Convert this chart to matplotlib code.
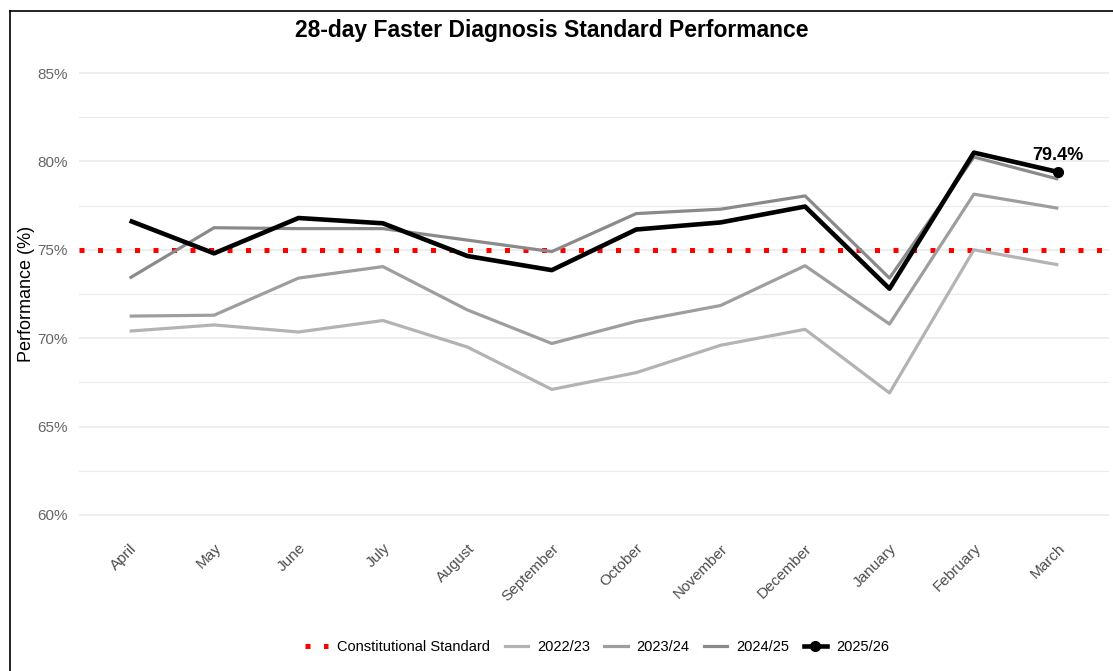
import matplotlib as mpl
mpl.use('Agg')
import matplotlib.pyplot as plt
from matplotlib.lines import Line2D
from matplotlib.ticker import FuncFormatter, MultipleLocator

plt.rcParams['font.family'] = ['Liberation Sans', 'DejaVu Sans']

months = ['April', 'May', 'June', 'July', 'August', 'September', 'October',
          'November', 'December', 'January', 'February', 'March']

fy_2022 = [70.4, 70.75, 70.35, 71.0, 69.5, 67.1, 68.05, 69.6, 70.5, 66.9, 75.0, 74.15]
fy_2023 = [71.25, 71.3, 73.4, 74.05, 71.6, 69.7, 70.95, 71.85, 74.1, 70.8, 78.15, 77.35]
fy_2024 = [73.4, 76.25, 76.2, 76.2, 75.55, 74.9, 77.05, 77.3, 78.05, 73.4, 80.25, 79.0]
fy_2025 = [76.65, 74.8, 76.8, 76.5, 74.65, 73.85, 76.15, 76.55, 77.45, 72.8, 80.5, 79.4]

standard = 75

x = list(range(len(months)))

fig = plt.figure(figsize=(11.13, 6.71), dpi=100)
ax = fig.add_axes([79 / 1113, 1 - 537 / 671, (1109 - 79) / 1113, (537 - 51) / 671])

ax.axhline(standard, color='#ff0000', linewidth=3.6, linestyle=(0, (1, 2.7)),
           dash_capstyle='butt', zorder=2)
ax.plot(x, fy_2022, color='#b3b3b3', linewidth=2.3, zorder=3, solid_capstyle='butt')
ax.plot(x, fy_2023, color='#9e9e9e', linewidth=2.3, zorder=3, solid_capstyle='butt')
ax.plot(x, fy_2024, color='#8a8a8a', linewidth=2.3, zorder=3, solid_capstyle='butt')
ax.plot(x, fy_2025, color='black', linewidth=3.3, zorder=4, solid_capstyle='butt')
ax.plot(x[-1], fy_2025[-1], 'o', color='black', markersize=7, zorder=5)
ax.annotate(f'{fy_2025[-1]:.1f}%', (x[-1], fy_2025[-1]), xytext=(0, 6),
            textcoords='offset points', ha='center', va='bottom',
            fontsize=13, fontweight='bold')

ax.set_xlim(-0.6, 11.6)
ax.set_ylim(58.75, 86.25)
ax.yaxis.set_major_locator(MultipleLocator(5))
ax.yaxis.set_minor_locator(MultipleLocator(2.5))
ax.yaxis.set_major_formatter(FuncFormatter(lambda v, p: f'{v:.0f}%'))
ax.set_xticks(x)
ax.set_xticklabels(months, rotation=45, ha='right', va='top', rotation_mode='anchor')

ax.grid(axis='y', which='major', color='#ebebeb', linewidth=1.2)
ax.grid(axis='y', which='minor', color='#ebebeb', linewidth=0.8)
ax.set_axisbelow(True)
for s in ax.spines.values():
    s.set_visible(False)
ax.tick_params(axis='both', which='both', length=0, colors='#4d4d4d', labelsize=11)
ax.tick_params(axis='x', pad=3)
ax.tick_params(axis='y', pad=8)
for lbl in ax.get_yticklabels():
    lbl.set_color('#666666')
for lbl in ax.get_xticklabels():
    lbl.set_color('#4d4d4d')
ax.set_ylabel('Performance (%)', fontsize=13, labelpad=2)

fig.suptitle('28-day Faster Diagnosis Standard Performance', x=0.496, y=1 - 30 / 671,
             va='center', fontsize=16.5, fontweight='bold')

handles = [
    Line2D([], [], color='#ff0000', linewidth=3.6, linestyle=(0, (1, 2.7)), dash_capstyle='butt'),
    Line2D([], [], color='#b3b3b3', linewidth=2.3),
    Line2D([], [], color='#9e9e9e', linewidth=2.3),
    Line2D([], [], color='#8a8a8a', linewidth=2.3),
    Line2D([], [], color='black', linewidth=3.3, marker='o', markersize=7),
]
labels = ['Constitutional Standard', '2022/23', '2023/24', '2024/25', '2025/26']
fig.legend(handles, labels, loc='center', bbox_to_anchor=(597 / 1113, 1 - 647 / 671),
           ncol=5, frameon=False, fontsize=10.5, handlelength=1.6, handletextpad=0.6,
           columnspacing=1.0)

# screenshot frame on top and left
fig.add_artist(Line2D([10 / 1113, 10 / 1113], [0, 1 - 11 / 671], color='black',
                      linewidth=1.2, transform=fig.transFigure))
fig.add_artist(Line2D([10 / 1113, 1], [1 - 11 / 671, 1 - 11 / 671], color='black',
                      linewidth=1.2, transform=fig.transFigure))

fig.savefig('out.png', dpi=100)
